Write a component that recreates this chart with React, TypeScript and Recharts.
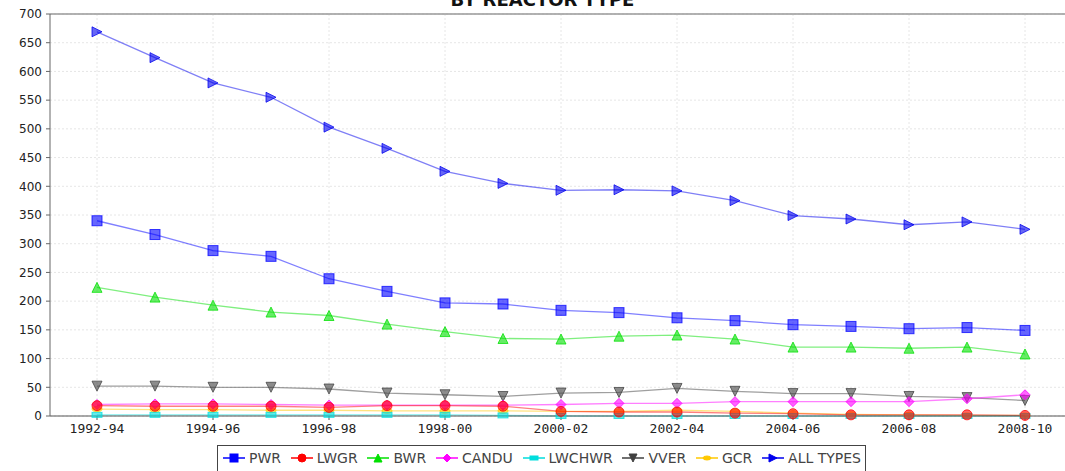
import React from 'react';
import { LineChart, Line, XAxis, YAxis, CartesianGrid, ReferenceLine } from 'recharts';

// 3-year periods on the category axis
const periods = [
  '1992-94', '1993-95', '1994-96', '1995-97', '1996-98', '1997-99', '1998-00', '1999-01', '2000-02',
  '2001-03', '2002-04', '2003-05', '2004-06', '2005-07', '2006-08', '2007-09', '2008-10',
];
const labeledPeriods = periods.filter((_, i) => i % 2 === 0);
const yTicks = [0, 50, 100, 150, 200, 250, 300, 350, 400, 450, 500, 550, 600, 650, 700];

const pwr = [340, 316, 288, 278, 239, 217, 197, 195, 184, 180, 171, 166, 159, 156, 152, 154, 149];
const lwgr = [18, 17, 17, 17, 15, 18, 18, 17, 8, 7, 7, 5, 4, 2, 2, 2, 1];
const bwr = [224, 207, 193, 181, 175, 160, 147, 135, 134, 139, 141, 134, 120, 120, 118, 120, 108];
const candu = [20, 21, 21, 20, 19, 19, 19, 19, 20, 22, 22, 25, 25, 25, 25, 30, 37];
const lwchwr = [2, 2, 2, 2, 2, 2, 2, 1, 0, 0, 0, 0, 0, 0, 0, 0, 0];
const vver = [52, 52, 50, 50, 47, 40, 37, 34, 40, 41, 48, 43, 39, 39, 34, 32, 27];
const gcr = [12, 11, 11, 10, 10, 9, 9, 9, 8, 8, 10, 8, 5, 3, 2, 1, 1];
const allTypes = [669, 624, 580, 555, 503, 466, 426, 405, 393, 394, 392, 375, 349, 343, 333, 338, 325];

const seriesNames = ['PWR', 'LWGR', 'BWR', 'CANDU', 'LWCHWR', 'VVER', 'GCR', 'ALL TYPES'];
const seriesValues = [pwr, lwgr, bwr, candu, lwchwr, vver, gcr, allTypes];

const seriesStyle: Record<string, { color: string; shape: string }> = {
  PWR: { color: '#0000ff', shape: 'square' },
  LWGR: { color: '#ff0000', shape: 'circle' },
  BWR: { color: '#00e000', shape: 'up' },
  CANDU: { color: '#ff00ff', shape: 'diamond' },
  LWCHWR: { color: '#00dddd', shape: 'hrect' },
  VVER: { color: '#404040', shape: 'down' },
  GCR: { color: '#ffc800', shape: 'ellipse' },
  'ALL TYPES': { color: '#0000ee', shape: 'right' },
};

const data = periods.map((period, i) => {
  const row: Record<string, string | number> = { period };
  seriesNames.forEach((name, s) => {
    row[name] = seriesValues[s][i];
  });
  return row;
});

const Marker = ({ cx, cy, shape, color, s = 5, fillOpacity = 0.6, strokeOpacity = 0.75 }: any) => {
  const common = { fill: color, fillOpacity, stroke: color, strokeOpacity, strokeWidth: 1 };
  switch (shape) {
    case 'square':
      return <rect x={cx - s} y={cy - s} width={2 * s} height={2 * s} {...common} />;
    case 'circle':
      return <circle cx={cx} cy={cy} r={s} {...common} />;
    case 'up':
      return <polygon points={`${cx},${cy - s} ${cx + s},${cy + s} ${cx - s},${cy + s}`} {...common} />;
    case 'down':
      return <polygon points={`${cx - s},${cy - s} ${cx + s},${cy - s} ${cx},${cy + s}`} {...common} />;
    case 'diamond':
      return <polygon points={`${cx},${cy - s} ${cx + s},${cy} ${cx},${cy + s} ${cx - s},${cy}`} {...common} />;
    case 'right':
      return <polygon points={`${cx - s},${cy - s} ${cx + s},${cy} ${cx - s},${cy + s}`} {...common} />;
    case 'hrect':
      return <rect x={cx - s} y={cy - s / 2} width={2 * s} height={s} {...common} />;
    case 'ellipse':
      return <ellipse cx={cx} cy={cy} rx={s} ry={s / 2} {...common} />;
    default:
      return null;
  }
};

const LegendBox = () => (
  <div
    style={{
      position: 'absolute',
      left: 217,
      top: 445,
      width: 649,
      height: 30,
      border: '1px solid #444',
      background: '#fff',
      display: 'flex',
      justifyContent: 'space-between',
      alignItems: 'flex-start',
      padding: '0 4px',
      boxSizing: 'border-box',
      fontFamily: '"DejaVu Sans", sans-serif',
      fontSize: 14,
      color: '#444',
    }}
  >
    {seriesNames.map((name) => {
      const st = seriesStyle[name];
      return (
        <div key={name} style={{ display: 'flex', alignItems: 'center', height: 24 }}>
          <svg width={24} height={12} style={{ marginRight: 3 }}>
            <line x1={1} y1={6} x2={23} y2={6} stroke={st.color} strokeWidth={1.5} />
            <Marker cx={12} cy={6} shape={st.shape} color={st.color} s={4} fillOpacity={1} strokeOpacity={1} />
          </svg>
          <span>{name}</span>
        </div>
      );
    })}
  </div>
);

export default function App() {
  const drawOrder = [...seriesNames].reverse();
  return (
    <div style={{ position: 'absolute', left: 0, top: 0, width: 1065, height: 471, overflow: 'hidden', background: '#fff' }}>
      <div
        style={{
          position: 'absolute',
          top: -9,
          left: 0,
          width: 1085,
          textAlign: 'center',
          fontFamily: '"DejaVu Sans", sans-serif',
          fontWeight: 'bold',
          fontSize: 18,
          lineHeight: '18px',
          color: '#111',
        }}
      >
        BY REACTOR TYPE
      </div>
      <LineChart width={1065} height={471} data={data} margin={{ top: 14, right: 0, left: 0, bottom: 25 }}>
        <CartesianGrid vertical={false} stroke="#e6e6e6" strokeDasharray="2 2" />
        {labeledPeriods.map((p) => (
          <ReferenceLine key={p} x={p} stroke="#e6e6e6" strokeDasharray="2 2" />
        ))}
        <ReferenceLine y={700} stroke="#999" strokeWidth={1.5} />
        <XAxis
          dataKey="period"
          interval={1}
          padding={{ left: 47, right: 40 }}
          height={30}
          tickSize={4}
          tickMargin={4}
          stroke="#555"
          tick={{ fontFamily: '"DejaVu Sans Mono", monospace', fontSize: 13, fill: '#222' }}
        />
        <YAxis
          width={50}
          domain={[0, 700]}
          ticks={yTicks}
          interval={0}
          tickSize={4}
          tickMargin={4}
          stroke="#666"
          tick={{ fontFamily: '"DejaVu Sans", sans-serif', fontSize: 12, fill: '#222' }}
        />
        {drawOrder.map((name) => {
          const st = seriesStyle[name];
          return (
            <Line
              key={name}
              dataKey={name}
              stroke={st.color}
              strokeOpacity={0.5}
              strokeWidth={1.3}
              isAnimationActive={false}
              dot={(p: any) => <Marker key={`${name}-${p.index}`} cx={p.cx} cy={p.cy} shape={st.shape} color={st.color} />}
              activeDot={false}
            />
          );
        })}
      </LineChart>
      <LegendBox />
    </div>
  );
}
